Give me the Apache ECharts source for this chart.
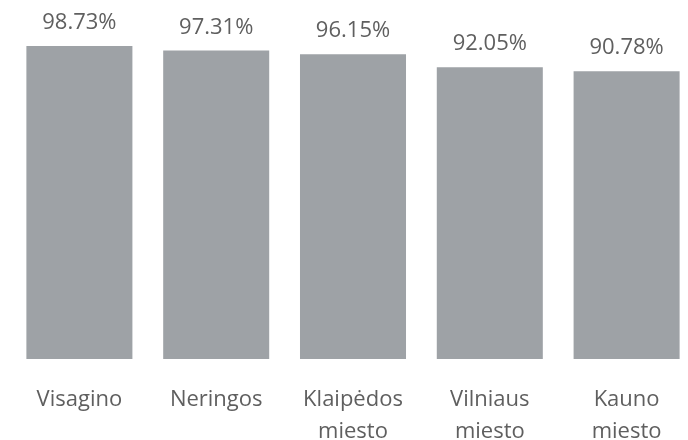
<!DOCTYPE html>
<html>
<head>
<meta charset="utf-8">
<script src="https://cdn.jsdelivr.net/npm/echarts@6/dist/echarts.min.js"></script>
<style>
  html, body { margin: 0; padding: 0; background: #fff; }
  #chart { width: 688px; height: 440px; }
</style>
</head>
<body>
<div id="chart"></div>
<script>
const categories = ['Visagino', 'Neringos', 'Klaipėdos\nmiesto', 'Vilniaus\nmiesto', 'Kauno\nmiesto']
const values = [98.73, 97.31, 96.15, 92.05, 90.78]

const chart = echarts.init(document.getElementById('chart'))

const font = '"Open Sans", "Noto Sans", sans-serif'

chart.setOption({
    animation: false,
    grid: { left: 11, right: -7, top: 42, bottom: 81, outerBoundsMode: 'none' },
    xAxis: {
        type: 'category',
        data: categories,
        axisLine: { show: false },
        axisTick: { show: false },
        axisLabel: {
            color: '#5f5f5f',
            fontFamily: font,
            fontSize: 22,
            lineHeight: 32,
            margin: 25,
            interval: 0
        }
    },
    yAxis: {
        type: 'value',
        min: 0,
        max: 100,
        show: false,
        splitLine: { show: false }
    },
    series: [{
        type: 'bar',
        data: values,
        barCategoryGap: '22.5%',
        itemStyle: { color: '#9ea2a6' },
        label: {
            show: true,
            position: 'top',
            distance: 12,
            color: '#5f5f5f',
            fontFamily: font,
            fontSize: 22,
            formatter: p => p.value.toFixed(2) + '%'
        }
    }]
})
</script>
</body>
</html>
